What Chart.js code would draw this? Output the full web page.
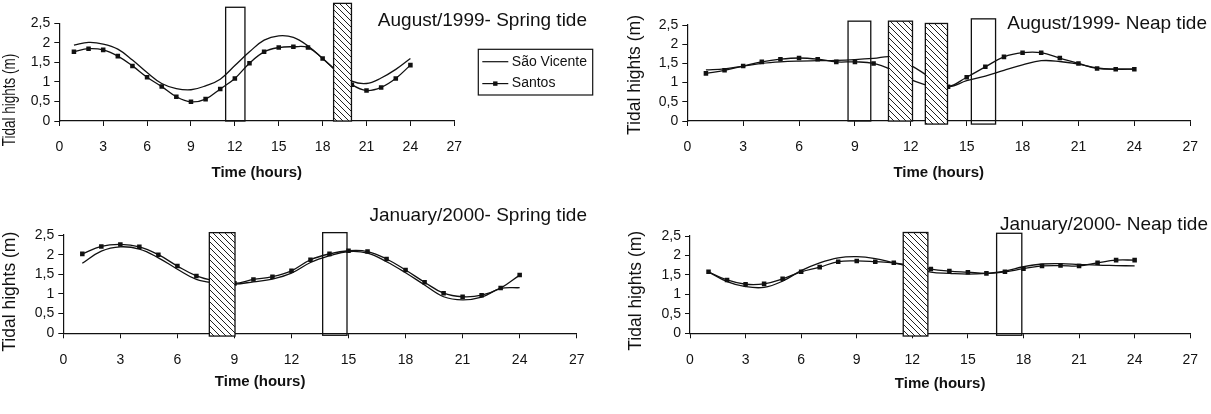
<!DOCTYPE html>
<html>
<head>
<meta charset="utf-8">
<script src="https://cdn.jsdelivr.net/npm/chart.js@4.4.1/dist/chart.umd.min.js"></script>
<style>
  body { margin: 0; background: #fff; }
  #wrap { position: relative; width: 1211px; height: 414px; overflow: hidden; }
  canvas { position: absolute; }
</style>
</head>
<body>
<div id="wrap">
  <canvas id="augSpring" width="605" height="200" style="left:0;top:0"></canvas>
  <canvas id="augNeap" width="606" height="200" style="left:605px;top:0"></canvas>
  <canvas id="janSpring" width="605" height="214" style="left:0;top:200px"></canvas>
  <canvas id="janNeap" width="606" height="214" style="left:605px;top:200px"></canvas>
</div>
<script>
// hours of the day (x values)
const hours = [1, 2, 3, 4, 5, 6, 7, 8, 9, 10, 11, 12, 13, 14, 15, 16, 17, 18, 19, 20, 21, 22, 23, 24];
const xTicks = [0, 3, 6, 9, 12, 15, 18, 21, 24, 27];
const yTicks = [0, 0.5, 1, 1.5, 2, 2.5];

// August/1999 spring tide
const augSpringVicente = [1.94, 2.01, 1.97, 1.84, 1.56, 1.24, 0.96, 0.83, 0.80, 0.90, 1.07, 1.42, 1.77, 2.07, 2.18, 2.14, 1.92, 1.60, 1.28, 1.02, 0.96, 1.10, 1.32, 1.60];
const augSpringSantos  = [1.77, 1.85, 1.82, 1.66, 1.41, 1.12, 0.88, 0.62, 0.49, 0.56, 0.82, 1.09, 1.48, 1.77, 1.88, 1.90, 1.88, 1.60, 1.25, 0.93, 0.78, 0.86, 1.09, 1.43];

// August/1999 neap tide
const augNeapVicente = [1.33, 1.36, 1.43, 1.50, 1.54, 1.56, 1.57, 1.58, 1.60, 1.63, 1.67, 1.45, 1.15, 0.90, 1.05, 1.17, 1.32, 1.46, 1.57, 1.55, 1.48, 1.38, 1.35, 1.35];
const augNeapSantos  = [1.24, 1.32, 1.43, 1.54, 1.61, 1.64, 1.61, 1.54, 1.54, 1.50, 1.33, 1.08, 0.92, 0.89, 1.14, 1.41, 1.67, 1.78, 1.78, 1.64, 1.50, 1.37, 1.35, 1.35];

// January/2000 spring tide
const janSpringVicente = [1.78, 2.09, 2.20, 2.14, 1.92, 1.63, 1.37, 1.28, 1.25, 1.31, 1.38, 1.53, 1.80, 1.97, 2.08, 2.04, 1.82, 1.54, 1.23, 0.93, 0.85, 0.92, 1.14, 1.16];
const janSpringSantos  = [2.02, 2.21, 2.26, 2.20, 2.00, 1.71, 1.46, 1.33, 1.27, 1.37, 1.44, 1.59, 1.87, 2.02, 2.10, 2.08, 1.89, 1.61, 1.30, 1.02, 0.93, 0.97, 1.15, 1.48];

// January/2000 neap tide
const janNeapVicente = [1.58, 1.33, 1.20, 1.18, 1.34, 1.61, 1.81, 1.94, 1.97, 1.92, 1.81, 1.70, 1.57, 1.54, 1.52, 1.54, 1.60, 1.71, 1.78, 1.79, 1.77, 1.75, 1.74, 1.73];
const janNeapSantos  = [1.58, 1.37, 1.26, 1.27, 1.40, 1.58, 1.70, 1.84, 1.86, 1.84, 1.81, 1.74, 1.65, 1.60, 1.57, 1.54, 1.58, 1.66, 1.73, 1.74, 1.73, 1.81, 1.88, 1.88];

// sampling windows (hours from/to, height range in m)
const augSpringBoxes = [
  { from: 11.37, to: 12.69, top: 2.91, bottom: 0, kind: 'open' },
  { from: 18.75, to: 19.97, top: 3.01, bottom: 0, kind: 'hatched' }
];
const augNeapBoxes = [
  { from: 8.63, to: 9.85, top: 2.60, bottom: 0, kind: 'open' },
  { from: 10.80, to: 12.09, top: 2.60, bottom: 0, kind: 'hatched' },
  { from: 12.78, to: 13.97, top: 2.54, bottom: -0.08, kind: 'hatched' },
  { from: 15.25, to: 16.55, top: 2.66, bottom: -0.08, kind: 'open' }
];
const janSpringBoxes = [
  { from: 7.68, to: 9.03, top: 2.56, bottom: -0.07, kind: 'hatched' },
  { from: 13.64, to: 14.92, top: 2.56, bottom: -0.05, kind: 'open' }
];
const janNeapBoxes = [
  { from: 11.51, to: 12.84, top: 2.59, bottom: -0.07, kind: 'hatched' },
  { from: 16.55, to: 17.91, top: 2.57, bottom: -0.05, kind: 'open' }
];

const FONT = '"Liberation Sans", Arial, sans-serif';
const INK = '#111';
Chart.defaults.font.family = FONT;

// diagonal stripes for the hatched boxes
function hatchPattern(ctx) {
  const c = document.createElement('canvas');
  c.width = 6; c.height = 6;
  const g = c.getContext('2d');
  g.fillStyle = '#fff';
  g.fillRect(0, 0, 6, 6);
  g.strokeStyle = '#222';
  g.lineWidth = 1;
  g.beginPath();
  g.moveTo(-1, -1); g.lineTo(7, 7);
  g.moveTo(-1, 5); g.lineTo(1, 7);
  g.moveTo(5, -1); g.lineTo(7, 1);
  g.stroke();
  return ctx.createPattern(c, 'repeat');
}

function makePanel(id, p) {
  const ctx = document.getElementById(id).getContext('2d');
  const stripes = hatchPattern(ctx);
  const pts = vals => hours.map((h, i) => ({ x: h, y: vals[i] }));

  const extras = {
    id: 'panelExtras',
    afterDatasetsDraw(chart) {
      const { ctx, scales: { x, y } } = chart;
      ctx.save();
      p.boxes.forEach(b => {
        const l = x.getPixelForValue(b.from), r = x.getPixelForValue(b.to);
        const t = y.getPixelForValue(b.top), btm = y.getPixelForValue(b.bottom);
        if (b.kind === 'hatched') {
          ctx.fillStyle = stripes;
          ctx.fillRect(l, t, r - l, btm - t);
        }
        ctx.strokeStyle = INK;
        ctx.lineWidth = 1.3;
        ctx.strokeRect(l, t, r - l, btm - t);
      });
      ctx.restore();
    },
    afterDraw(chart) {
      const { ctx, scales: { x } } = chart;
      ctx.save();
      ctx.fillStyle = INK;
      ctx.textBaseline = 'middle';

      // panel title
      ctx.font = '19px ' + FONT;
      ctx.textAlign = 'right';
      ctx.fillText(p.title, p.titleRight, p.titleY);

      // x axis title
      ctx.font = 'bold 15px ' + FONT;
      ctx.textAlign = 'center';
      ctx.fillText('Time (hours)', x.getPixelForValue(p.xTitleAt), p.xTitleY);

      // y axis title (first panel is squeezed along its length)
      ctx.save();
      ctx.translate(p.yTitleX, p.yTitleY);
      ctx.rotate(-Math.PI / 2);
      ctx.scale(p.yTitleSqueeze || 1, 1);
      ctx.font = '17.5px ' + FONT;
      ctx.fillText('Tidal hights (m)', 0, 0);
      ctx.restore();

      // legend box (first panel only)
      if (p.legend) {
        const L = p.legend;
        const ds = chart.data.datasets;
        ctx.strokeStyle = INK;
        ctx.lineWidth = 1.2;
        ctx.strokeRect(L.x, L.y, L.w, L.h);
        ctx.font = '14px ' + FONT;
        ctx.textAlign = 'left';
        ds.forEach((d, i) => {
          const cy = L.y + L.rowY[i];
          ctx.beginPath();
          ctx.moveTo(L.x + 4, cy);
          ctx.lineTo(L.x + 30, cy);
          ctx.stroke();
          if (d.pointRadius > 0) {
            ctx.fillRect(L.x + 17 - 2.2, cy - 2.2, 4.4, 4.4);
          }
          ctx.fillText(d.label, L.x + 33.5, cy);
        });
      }
      ctx.restore();
    }
  };

  return new Chart(ctx, {
    type: 'line',
    data: {
      datasets: [
        {
          label: 'São Vicente',
          data: pts(p.vicente),
          borderColor: INK,
          borderWidth: 1.3,
          pointRadius: 0,
          tension: 0.4
        },
        {
          label: 'Santos',
          data: pts(p.santos),
          borderColor: INK,
          borderWidth: 1.3,
          pointStyle: 'rect',
          pointRadius: 3.2,
          pointBorderWidth: 0,
          pointBackgroundColor: INK,
          tension: 0.4
        }
      ]
    },
    options: {
      responsive: false,
      animation: false,
      events: [],
      layout: { padding: { left: 0, top: p.area.top, right: p.area.right, bottom: 0 } },
      plugins: { legend: { display: false }, tooltip: { enabled: false } },
      scales: {
        x: {
          type: 'linear',
          min: 0,
          max: 27,
          afterFit: s => { s.height = p.area.xh; },
          afterBuildTicks: s => { s.ticks = xTicks.map(v => ({ value: v })); },
          ticks: { color: INK, font: { size: 14 }, padding: 13, maxRotation: 0, autoSkip: false },
          grid: { drawOnChartArea: false, tickLength: 5, color: INK },
          border: { color: INK, width: 1.2 }
        },
        y: {
          min: 0,
          max: 2.5,
          afterFit: s => { s.width = p.area.left; },
          afterBuildTicks: s => { s.ticks = yTicks.map(v => ({ value: v })); },
          ticks: {
            color: INK,
            font: { size: 14 },
            padding: 4,
            autoSkip: false,
            callback: v => String(v).replace('.', ',')
          },
          grid: { drawOnChartArea: false, tickLength: 5, color: INK },
          border: { color: INK, width: 1.2 }
        }
      }
    },
    plugins: [extras]
  });
}

makePanel('augSpring', {
  vicente: augSpringVicente, santos: augSpringSantos, boxes: augSpringBoxes,
  title: 'August/1999- Spring tide', titleRight: 587, titleY: 21,
  xTitleAt: 13.5, xTitleY: 172.5, yTitleX: 10, yTitleY: 100, yTitleSqueeze: 0.77,
  area: { left: 59.3, top: 23.3, right: 150.7, xh: 79 },
  legend: { x: 478.3, y: 49.3, w: 114.4, h: 45.7, rowY: [12.4, 34.3] }
});

makePanel('augNeap', {
  vicente: augNeapVicente, santos: augNeapSantos, boxes: augNeapBoxes,
  title: 'August/1999- Neap tide', titleRight: 602, titleY: 24,
  xTitleAt: 13.5, xTitleY: 172.5, yTitleX: 30.5, yTitleY: 75,
  area: { left: 82.3, top: 25, right: 12.7, xh: 79 }
});

makePanel('janSpring', {
  vicente: janSpringVicente, santos: janSpringSantos, boxes: janSpringBoxes,
  title: 'January/2000- Spring tide', titleRight: 587, titleY: 16,
  xTitleAt: 10.35, xTitleY: 181.7, yTitleX: 10, yTitleY: 91.7,
  area: { left: 63.3, top: 35, right: 28.3, xh: 80.7 }
});

makePanel('janNeap', {
  vicente: janNeapVicente, santos: janNeapSantos, boxes: janNeapBoxes,
  title: 'January/2000- Neap tide', titleRight: 603, titleY: 25,
  xTitleAt: 13.5, xTitleY: 184.3, yTitleX: 31.5, yTitleY: 90.8,
  area: { left: 85, top: 36, right: 12.7, xh: 80.7 }
});
</script>
</body>
</html>
